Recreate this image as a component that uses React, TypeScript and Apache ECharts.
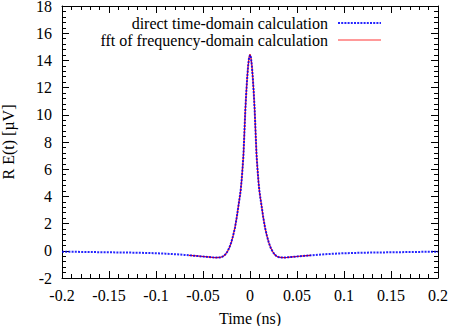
import React, { useEffect, useRef } from "react";
import * as echarts from "echarts";

// Time (ns) samples for the direct time-domain calculation
const directTime = [
  -0.2, -0.18, -0.16, -0.14, -0.12, -0.1, -0.09, -0.08, -0.07, -0.065, -0.06, -0.05, -0.045,
  -0.04, -0.036, -0.032, -0.03, -0.028, -0.026, -0.024, -0.022, -0.02, -0.018, -0.016, -0.014,
  -0.012, -0.011, -0.01, -0.009, -0.008, -0.007, -0.006, -0.005, -0.004, -0.003, -0.002, -0.001,
  0,
  0.001, 0.002, 0.003, 0.004, 0.005, 0.006, 0.007, 0.008, 0.009, 0.01, 0.011, 0.012, 0.014,
  0.016, 0.018, 0.02, 0.022, 0.024, 0.026, 0.028, 0.03, 0.032, 0.036, 0.04, 0.045, 0.05, 0.06,
  0.065, 0.07, 0.08, 0.09, 0.1, 0.12, 0.14, 0.16, 0.18, 0.2,
];
// R E(t) (µV)
const directValues = [
  -0.07, -0.08, -0.1, -0.12, -0.14, -0.18, -0.21, -0.25, -0.3, -0.33, -0.36, -0.42, -0.45,
  -0.48, -0.5, -0.49, -0.45, -0.38, -0.25, -0.05, 0.22, 0.6, 1.1, 1.7, 2.5,
  3.45, 3.9, 4.4, 5.1, 6.0, 7.0, 8.6, 10.3, 11.6, 12.7, 13.6, 14.2,
  14.4,
  14.2, 13.6, 12.7, 11.6, 10.3, 8.6, 7.0, 6.0, 5.1, 4.4, 3.9, 3.45, 2.5,
  1.7, 1.1, 0.6, 0.22, -0.05, -0.25, -0.38, -0.45, -0.49, -0.5, -0.48, -0.45, -0.42, -0.36,
  -0.33, -0.3, -0.25, -0.21, -0.18, -0.14, -0.12, -0.1, -0.08, -0.07,
];

// FFT of frequency-domain calculation (covers a narrower window)
const fftTime = [
  -0.065, -0.06, -0.05, -0.045, -0.04, -0.036, -0.032, -0.03, -0.028, -0.026, -0.024, -0.022,
  -0.02, -0.018, -0.016, -0.014, -0.012, -0.011, -0.01, -0.009, -0.008, -0.007, -0.006, -0.005,
  -0.004, -0.003, -0.002, -0.001, 0, 0.001, 0.002, 0.003, 0.004, 0.005, 0.006, 0.007, 0.008,
  0.009, 0.01, 0.011, 0.012, 0.014, 0.016, 0.018, 0.02, 0.022, 0.024, 0.026, 0.028, 0.03,
  0.032, 0.036, 0.04, 0.045, 0.05, 0.06, 0.065,
];
const fftValues = [
  -0.33, -0.36, -0.42, -0.45, -0.48, -0.5, -0.49, -0.45, -0.38, -0.25, -0.05, 0.22,
  0.6, 1.1, 1.7, 2.5, 3.45, 3.9, 4.4, 5.1, 6.0, 7.0, 8.6, 10.3,
  11.6, 12.7, 13.6, 14.2, 14.45, 14.2, 13.6, 12.7, 11.6, 10.3, 8.6, 7.0, 6.0,
  5.1, 4.4, 3.9, 3.45, 2.5, 1.7, 1.1, 0.6, 0.22, -0.05, -0.25, -0.38, -0.45,
  -0.49, -0.5, -0.48, -0.45, -0.42, -0.36, -0.33,
];

const seriesNames = ["direct time-domain calculation", "fft of frequency-domain calculation"];
const xTitle = "Time (ns)";
const yTitle = "R E(t) [\u00b5V]";

const FONT = "Liberation Serif";
const BLUE = "#0000ff";
const RED = "#ff0000";
const BLUE_DASH = [2, 1.2];

export default function App() {
  const ref = useRef<HTMLDivElement>(null);
  useEffect(() => {
    if (!ref.current) return;
    const chart = echarts.init(ref.current, undefined, { renderer: "svg" });
    const tickCommon = {
      axisLine: { show: true, onZero: false, lineStyle: { color: "#000", width: 1 } },
      axisTick: { show: true, inside: true, length: 7, lineStyle: { color: "#000" } },
      minorTick: { show: true, splitNumber: 5, length: 4, lineStyle: { color: "#000" } },
      splitLine: { show: false },
      minorSplitLine: { show: false },
    };
    const xBase = { type: "value" as const, min: -0.2, max: 0.2, interval: 0.05, ...tickCommon };
    const yBase = { type: "value" as const, min: -2, max: 18, interval: 2, ...tickCommon };
    const legendTextRight = 328;
    const legendLineX1 = 338;
    const legendLineX2 = 381;
    const legendRows = [23, 40];
    chart.setOption({
      animation: false,
      backgroundColor: "#fff",
      textStyle: { fontFamily: FONT },
      grid: {
        left: 62,
        right: 12,
        top: 6,
        bottom: 48,
        containLabel: false,
        outerBoundsMode: "none",
      },
      xAxis: [
        {
          ...xBase,
          position: "bottom",
          name: xTitle,
          nameLocation: "middle",
          nameGap: 32,
          nameTextStyle: { fontFamily: FONT, fontSize: 16, color: "#000" },
          axisLabel: {
            margin: 9,
            fontFamily: FONT,
            fontSize: 16,
            color: "#000",
            formatter: (v: number) => String(+v.toFixed(3)),
          },
        },
        { ...xBase, position: "top", axisLabel: { show: false } },
      ],
      yAxis: [
        {
          ...yBase,
          position: "left",
          name: yTitle,
          nameLocation: "middle",
          nameGap: 46,
          nameTextStyle: { fontFamily: FONT, fontSize: 16, color: "#000" },
          axisLabel: {
            margin: 10,
            fontFamily: FONT,
            fontSize: 16,
            lineHeight: 12,
            padding: [3, 0, 0, 0],
            color: "#000",
            formatter: (v: number) => String(+v.toFixed(3)),
          },
        },
        { ...yBase, position: "right", axisLabel: { show: false } },
      ],
      graphic: [
        {
          type: "text",
          x: legendTextRight,
          y: legendRows[0],
          style: {
            text: seriesNames[0],
            fontFamily: FONT,
            fontSize: 16,
            fill: "#000",
            align: "right",
            verticalAlign: "middle",
          },
        },
        {
          type: "line",
          shape: { x1: legendLineX1, y1: legendRows[0], x2: legendLineX2, y2: legendRows[0] },
          style: { stroke: BLUE, lineWidth: 2, lineDash: BLUE_DASH, opacity: 0.85 },
        },
        {
          type: "text",
          x: legendTextRight,
          y: legendRows[1],
          style: {
            text: seriesNames[1],
            fontFamily: FONT,
            fontSize: 16,
            fill: "#000",
            align: "right",
            verticalAlign: "middle",
          },
        },
        {
          type: "line",
          shape: { x1: legendLineX1, y1: legendRows[1], x2: legendLineX2, y2: legendRows[1] },
          style: { stroke: RED, lineWidth: 1.2, opacity: 0.8 },
        },
      ],
      series: [
        {
          name: seriesNames[1],
          type: "line",
          symbol: "none",
          xAxisIndex: 0,
          yAxisIndex: 0,
          data: fftTime.map((t, i) => [t, fftValues[i]]),
          lineStyle: { color: RED, width: 1.2 },
          itemStyle: { color: RED },
          z: 2,
        },
        {
          name: seriesNames[0],
          type: "line",
          symbol: "none",
          xAxisIndex: 0,
          yAxisIndex: 0,
          data: directTime.map((t, i) => [t, directValues[i]]),
          lineStyle: { color: BLUE, width: 2, type: BLUE_DASH, opacity: 0.85 },
          itemStyle: { color: BLUE },
          z: 3,
        },
      ],
    });
    return () => chart.dispose();
  }, []);
  return <div ref={ref} style={{ width: 450, height: 326, position: "absolute", left: 0, top: 0 }} />;
}
